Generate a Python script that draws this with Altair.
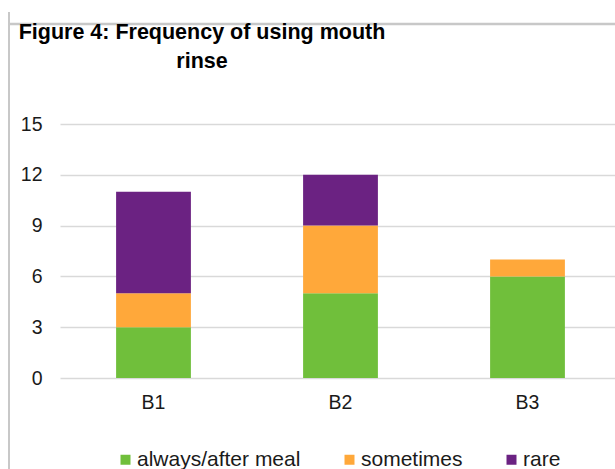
import altair as alt
import pandas as pd

# Survey groups and counts of respondents per mouth-rinse frequency
groups = ["B1", "B2", "B3"]
categories = ["always/after meal", "sometimes", "rare"]
always_after_meal = [3, 5, 6]
sometimes = [2, 4, 1]
rare = [6, 3, 0]
colors = ["#70bf3b", "#ffa83a", "#6b2282"]
y_ticks = [0, 3, 6, 9, 12, 15]
title_lines = ["Figure 4: Frequency of using mouth", "rinse"]

series = [always_after_meal, sometimes, rare]
rows = []
for i, g in enumerate(groups):
    for k, cat in enumerate(categories):
        rows.append({"group": g, "frequency": cat, "count": series[k][i], "order": k})
df = pd.DataFrame(rows)

FONT = "Liberation Sans"
TEXT = "#1a1a1a"
FRAME = "#c8c8c8"

one = pd.DataFrame({"f": [0]})

# light grey chart-area frame: top and left edges
frame_top = alt.Chart(one).mark_rule(color=FRAME, strokeWidth=2.5).encode(
    x=alt.value(-52), x2=alt.value(560), y=alt.value(-100)
)
frame_left = alt.Chart(one).mark_rule(color=FRAME, strokeWidth=2).encode(
    x=alt.value(-51), y=alt.value(-112), y2=alt.value(345)
)

# two-line bold heading, centred lines
heading = alt.Chart(one).mark_text(
    font=FONT, fontSize=21.5, fontWeight="bold", color="black",
    align="center", baseline="alphabetic", lineHeight=29,
).encode(
    x=alt.value(142), y=alt.value(-85), text=alt.value(title_lines)
)

bars = alt.Chart(df).mark_bar().encode(
    x=alt.X(
        "group:N",
        sort=groups,
        scale=alt.Scale(range=[0, 561], paddingInner=0.6, paddingOuter=0.3),
        axis=alt.Axis(
            title=None, labelAngle=0, domain=False, ticks=False,
            labelPadding=15, labelFontSize=19.5, labelFont=FONT, labelColor=TEXT,
        ),
    ),
    y=alt.Y(
        "count:Q",
        stack="zero",
        scale=alt.Scale(domain=[0, 15]),
        axis=alt.Axis(
            values=y_ticks, title=None, domain=False, ticks=False,
            labelPadding=18, labelFontSize=19.5, labelFont=FONT, labelColor=TEXT,
            gridColor="#d9d9d9", gridWidth=1.5,
        ),
    ),
    color=alt.Color(
        "frequency:N",
        sort=categories,
        scale=alt.Scale(domain=categories, range=colors),
        legend=alt.Legend(
            title=None, orient="none", legendX=55, legendY=325,
            direction="horizontal", symbolType="square", symbolSize=100,
            symbolStrokeWidth=0, symbolOpacity=1, labelFontSize=21,
            labelFont=FONT, labelColor=TEXT, columnPadding=38, labelOffset=1,
            labelLimit=400,
        ),
    ),
    order=alt.Order("order:Q"),
)

chart = alt.layer(frame_top, frame_left, heading, bars).properties(
    width=555,
    height=254,
    padding={"left": 60, "top": 124, "right": 0, "bottom": 91},
    autosize=alt.AutoSizeParams(type="none"),
).configure_view(strokeWidth=0)

chart.save("out.html", embed_options={"renderer": "svg", "actions": False})
